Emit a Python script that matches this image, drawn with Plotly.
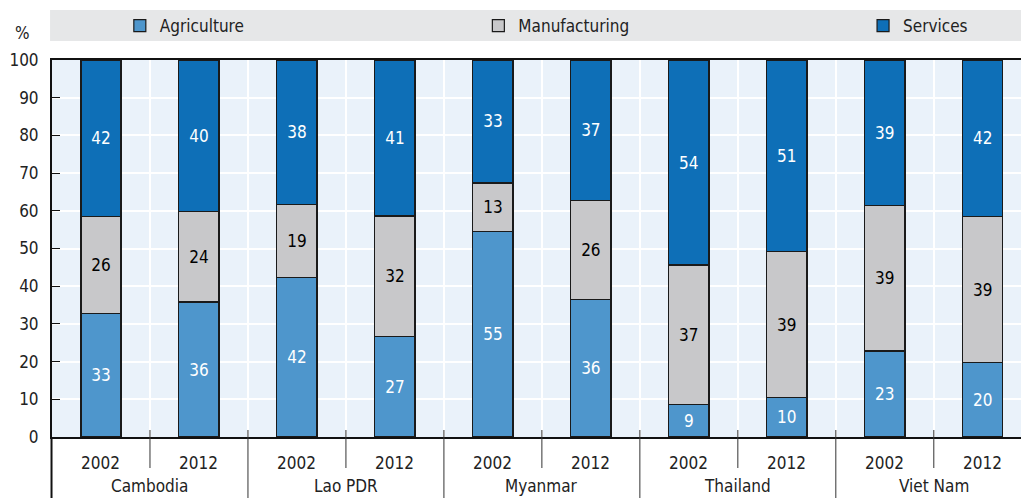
import plotly.graph_objects as go

countries = ["Cambodia", "Lao PDR", "Myanmar", "Thailand", "Viet Nam"]
years = ["2002", "2012"]
agriculture = [32.8, 35.8, 42.4, 26.6, 54.6, 36.4, 8.7, 10.4, 22.8, 19.8]
manufacturing = [25.6, 24.1, 19.3, 32.0, 12.8, 26.3, 36.9, 38.8, 38.6, 38.6]
services = [41.6, 40.1, 38.3, 41.4, 32.6, 37.3, 54.4, 50.8, 38.6, 41.6]
series_names = ["Agriculture", "Manufacturing", "Services"]
series_colors = ["#4E96CC", "#C8C8CA", "#0E6FB7"]
text_colors = ["white", "black", "white"]

FONT = "DejaVu Sans Condensed, Liberation Sans Narrow, sans-serif"
FS = 17
n = len(countries) * len(years)
xpos = list(range(n))
year_labels = [years[i % 2] for i in xpos]

fig = go.Figure()
legend_ids = ["legend", "legend2", "legend3"]
legend_x = [0.070, 0.440, 0.837]
for name, vals, col, tcol, lid in zip(series_names, [agriculture, manufacturing, services],
                                      series_colors, text_colors, legend_ids):
    fig.add_trace(go.Bar(
        x=xpos, y=vals, name=name, width=0.41,
        marker=dict(color=col, line=dict(color="#1a1a1a", width=1.2)),
        texttemplate="%{y:.0f}", textposition="inside", insidetextanchor="middle",
        textangle=0, textfont=dict(color=tcol, size=FS, family=FONT),
        legend=lid, showlegend=True, hoverinfo="skip",
    ))

plot_h = 377.0
def py(px):
    return (437 - px) / plot_h

legend_common = dict(orientation="h", yanchor="middle", y=py(26), xanchor="left",
                     bgcolor="rgba(0,0,0,0)", font=dict(size=FS, family=FONT, color="#222"),
                     itemwidth=30)
layout_legends = {}
for lid, lx in zip(legend_ids, legend_x):
    layout_legends[lid] = dict(legend_common, x=lx)

shapes = []
shapes.append(dict(type="rect", xref="paper", yref="paper", x0=-0.002, x1=1.0,
                   y0=py(41), y1=py(10), fillcolor="#E6E7E8", line=dict(width=0), layer="below"))
for i in range(n):
    b = i + 0.5
    if b >= n - 0.5:
        continue
    if i % 2 == 0:
        shapes.append(dict(type="line", xref="x", yref="paper", x0=b, x1=b,
                           y0=py(430), y1=py(468), line=dict(color="#333", width=1)))
    else:
        shapes.append(dict(type="line", xref="x", yref="paper", x0=b, x1=b,
                           y0=py(430), y1=py(500), line=dict(color="#333", width=1)))
shapes.append(dict(type="line", xref="paper", yref="paper", x0=-0.0005, x1=-0.0005,
                   y0=0, y1=py(500), line=dict(color="#111", width=2)))

txtfont = dict(size=FS, family=FONT, color="#222")
annotations = [dict(text="%", xref="paper", yref="paper", x=(22 - 52) / 969, y=py(33),
                    xanchor="center", yanchor="middle", showarrow=False, font=txtfont)]
for i, yl in zip(xpos, year_labels):
    annotations.append(dict(text=yl, xref="x", yref="paper", x=i, y=py(463),
                            xanchor="center", yanchor="middle", showarrow=False, font=txtfont))
for k, c in enumerate(countries):
    annotations.append(dict(text=c, xref="x", yref="paper", x=2 * k + 0.5, y=py(486),
                            xanchor="center", yanchor="middle", showarrow=False, font=txtfont))

fig.update_layout(
    width=1021, height=498,
    margin=dict(l=52, r=0, t=60, b=61, autoexpand=False),
    barmode="stack", showlegend=True,
    paper_bgcolor="white", plot_bgcolor="#EAF2FA",
    font=dict(family=FONT, size=FS, color="#222"),
    shapes=shapes, annotations=annotations,
    xaxis=dict(range=[-0.5, 9.39], tickvals=[i + 0.5 for i in range(n - 1)],
               showticklabels=False, ticks="", showgrid=True, gridcolor="white", gridwidth=1.5,
               showline=True, linecolor="#111", linewidth=2, mirror=True, zeroline=False),
    yaxis=dict(range=[0, 100], dtick=10, tick0=0, showgrid=True, gridcolor="white", gridwidth=1.5,
               ticks="inside", ticklen=8, tickcolor="#111", showline=True, linecolor="#111",
               linewidth=2, zeroline=False, ticklabelstandoff=8,
               tickfont=txtfont),
    **layout_legends,
)
fig.write_html("out.html", config={"displayModeBar": False},
               post_script="document.body.style.margin='0';document.body.style.overflow='hidden';")
